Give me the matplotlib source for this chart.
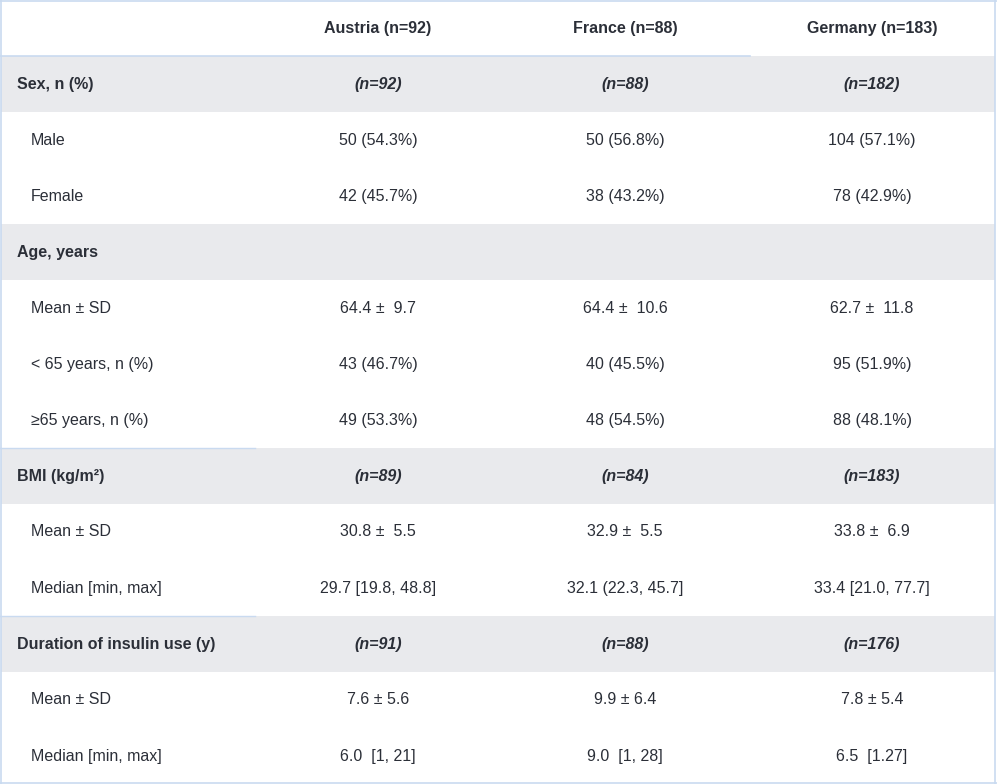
import matplotlib
matplotlib.use("Agg")
import matplotlib.pyplot as plt
from matplotlib.patches import Rectangle

columns = ["Austria (n=92)", "France (n=88)", "Germany (n=183)"]
# (label, kind, values) kind: 'group' or 'item'
row_labels = ["Sex, n (%)", "Male", "Female", "Age, years", "Mean ± SD",
              "< 65 years, n (%)", "≥65 years, n (%)", "BMI (kg/m²)", "Mean ± SD",
              "Median [min, max]", "Duration of insulin use (y)", "Mean ± SD",
              "Median [min, max]"]
row_kinds = ["group", "item", "item", "group", "item", "item", "item",
             "group", "item", "item", "group", "item", "item"]
austria = ["(n=92)", "50 (54.3%)", "42 (45.7%)", "", "64.4 ±  9.7", "43 (46.7%)",
           "49 (53.3%)", "(n=89)", "30.8 ±  5.5", "29.7 [19.8, 48.8]", "(n=91)",
           "7.6 ± 5.6", "6.0  [1, 21]"]
france = ["(n=88)", "50 (56.8%)", "38 (43.2%)", "", "64.4 ±  10.6", "40 (45.5%)",
          "48 (54.5%)", "(n=84)", "32.9 ±  5.5", "32.1 (22.3, 45.7]", "(n=88)",
          "9.9 ± 6.4", "9.0  [1, 28]"]
germany = ["(n=182)", "104 (57.1%)", "78 (42.9%)", "", "62.7 ±  11.8", "95 (51.9%)",
           "88 (48.1%)", "(n=183)", "33.8 ±  6.9", "33.4 [21.0, 77.7]", "(n=176)",
           "7.8 ± 5.4", "6.5  [1.27]"]

W, H = 997, 784
fig = plt.figure(figsize=(W / 100, H / 100), dpi=100)
ax = fig.add_axes([0, 0, 1, 1])
ax.set_xlim(0, W)
ax.set_ylim(H, 0)
ax.axis("off")

FONT = "Liberation Sans"
TC = "#2b2f38"
FS = 11.5
RH = 56
col_x = [378, 625, 872]
line_c = "#c9daf0"

for j, c in enumerate(columns):
    ax.text(col_x[j], RH / 2, c, ha="center", va="center", fontsize=FS,
            fontweight="bold", family=FONT, color=TC)

cols = [austria, france, germany]
for i, (lab, kind) in enumerate(zip(row_labels, row_kinds)):
    y0 = RH * (i + 1)
    yc = y0 + RH / 2
    if kind == "group":
        ax.add_patch(Rectangle((1, y0), W - 3, RH, color="#e9eaed", lw=0))
        ax.text(17, yc, lab, ha="left", va="center", fontsize=FS,
                fontweight="bold", family=FONT, color=TC)
        for j in range(3):
            ax.text(col_x[j], yc, cols[j][i], ha="center", va="center", fontsize=FS,
                    fontweight="bold", style="italic", family=FONT, color=TC)
    else:
        ax.text(31, yc, lab, ha="left", va="center", fontsize=FS,
                family=FONT, color=TC)
        for j in range(3):
            ax.text(col_x[j], yc, cols[j][i], ha="center", va="center", fontsize=FS,
                    family=FONT, color=TC)

# borders
ax.plot([1, 1], [0, H], color=line_c, lw=1.2)
ax.plot([W - 2, W - 2], [0, H], color=line_c, lw=1.2)
ax.plot([0, W], [1, 1], color=line_c, lw=1.2)
ax.plot([0, W], [H - 1, H - 1], color=line_c, lw=1.2)
ax.plot([0, 750], [56, 56], color=line_c, lw=1.2)
ax.plot([0, 255], [448, 448], color=line_c, lw=1)
ax.plot([0, 255], [616, 616], color=line_c, lw=1)

fig.savefig("out.png", dpi=100)
